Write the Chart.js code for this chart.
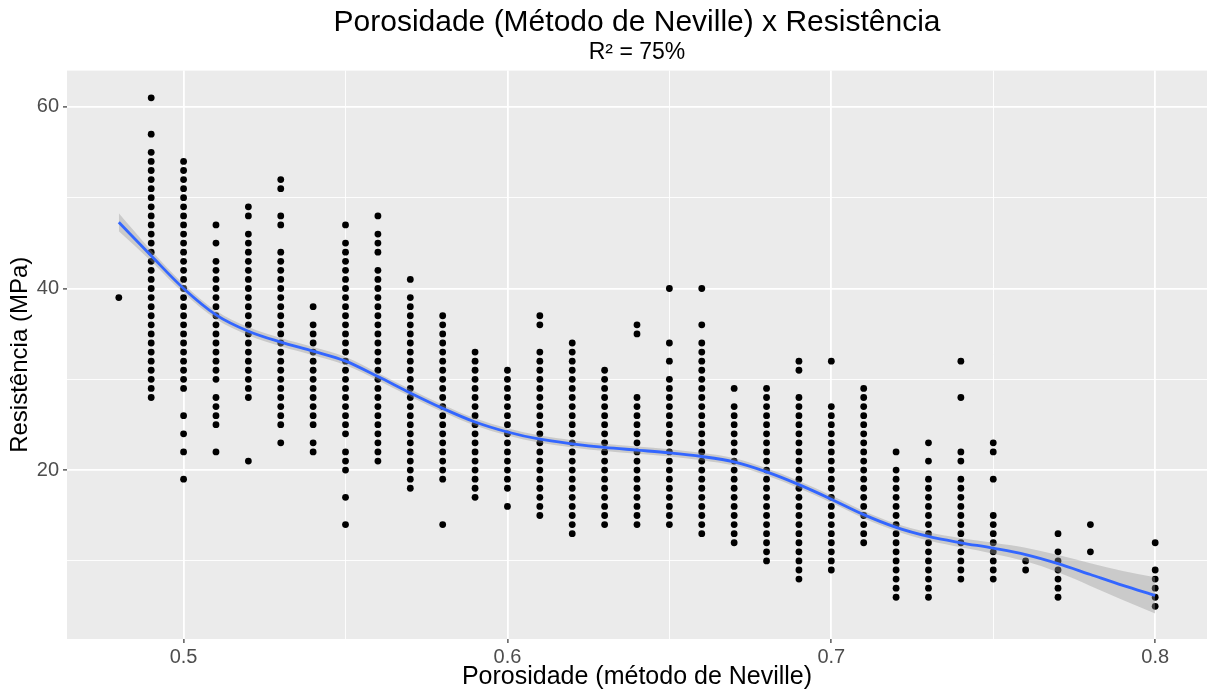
<!DOCTYPE html>
<html>
<head>
<meta charset="utf-8">
<title>Porosidade x Resistência</title>
<script src="https://cdn.jsdelivr.net/npm/chart.js@4.4.0/dist/chart.umd.min.js"></script>
<style>
  html, body { margin: 0; padding: 0; background: #fff; }
</style>
</head>
<body>
<canvas id="myChart" width="1211" height="693"></canvas>
<script>
// Porosidade de cada coluna de pontos
const porosidade = [0.48, 0.49, 0.50, 0.51, 0.52, 0.53, 0.54, 0.55, 0.56, 0.57, 0.58, 0.59, 0.60,
  0.61, 0.62, 0.63, 0.64, 0.65, 0.66, 0.67, 0.68, 0.69, 0.70, 0.71, 0.72, 0.73, 0.74, 0.75,
  0.76, 0.77, 0.78, 0.80];

// Resistências (MPa) lidas em cada coluna
const resistencia = [
  [39],
  [61,57,55,54,53,52,51,50,49,48,47,46,45,44,43,42,41,40,39,38,37,36,35,34,33,32,31,30,29,28],
  [54,53,52,51,50,49,48,47,46,45,44,43,42,41,40,39,38,37,36,35,34,33,32,31,30,29,26,24,22,19],
  [47,45,43,42,41,40,39,38,37,36,35,34,33,32,31,30,28,27,26,25,22],
  [49,48,46,45,44,43,42,41,40,39,38,37,36,35,34,33,32,31,30,29,28,21],
  [52,51,48,47,44,43,42,41,40,39,38,37,36,35,34,33,32,31,30,29,28,27,26,25,23],
  [38,36,35,34,33,32,31,30,29,28,27,26,25,23,22],
  [47,45,44,43,42,41,40,39,38,37,36,35,34,33,32,31,30,29,28,27,26,25,24,22,21,20,17,14],
  [48,46,45,44,42,41,40,39,38,37,36,35,34,33,32,31,30,29,28,27,26,25,24,23,22,21],
  [41,39,38,37,36,35,34,33,32,31,30,29,28,27,26,25,24,23,22,21,20,19,18],
  [37,36,35,34,33,32,31,30,29,28,27,26,25,24,23,22,21,20,19,14],
  [33,32,31,30,29,28,27,26,25,24,23,22,21,20,19,18,17],
  [31,30,29,28,27,26,25,24,23,22,21,20,19,18,16],
  [37,36,33,32,31,30,29,28,27,26,25,24,23,22,21,20,19,18,17,16,15],
  [34,33,32,31,30,29,28,27,26,25,24,23,22,21,20,19,18,17,16,15,14,13],
  [31,30,29,28,27,26,25,24,23,22,21,20,19,18,17,16,15,14],
  [36,35,28,27,26,25,24,23,22,21,20,19,18,17,16,15,14],
  [40,34,32,30,29,28,27,26,25,24,23,22,21,20,19,18,17,16,15,14],
  [40,36,34,33,32,31,30,29,28,27,26,25,24,23,22,21,20,19,18,17,16,15,14,13],
  [29,27,26,25,24,23,22,21,20,19,18,17,16,15,14,13,12],
  [29,28,27,26,25,24,23,22,21,20,19,18,17,16,15,14,13,12,11,10],
  [32,31,28,27,26,25,24,23,22,21,20,19,18,17,16,15,14,13,12,11,10,9,8],
  [32,27,26,25,24,23,22,21,20,19,18,17,16,15,14,13,12,11,10,9],
  [29,28,27,26,25,24,23,22,21,20,19,18,17,16,15,14,13,12],
  [22,20,19,18,17,16,15,14,13,12,11,10,9,8,7,6],
  [23,21,19,18,17,16,15,14,13,12,11,10,9,8,7,6],
  [32,28,22,21,19,18,17,16,15,14,13,12,11,10,9,8],
  [23,22,19,15,14,13,12,11,10,9,8],
  [10,9],
  [13,11,10,9,8,7,6],
  [14,11],
  [12,9,8,7,6,5]
];

// Curva suavizada (loess) e meia largura da faixa de confiança
const curvaX = [0.48, 0.49, 0.50, 0.51, 0.52, 0.53, 0.54, 0.55, 0.56, 0.57, 0.58, 0.59, 0.60,
  0.61, 0.62, 0.63, 0.64, 0.65, 0.66, 0.67, 0.68, 0.69, 0.70, 0.71, 0.72, 0.73, 0.74, 0.75,
  0.76, 0.77, 0.78, 0.79, 0.80];
const curvaY = [47.3, 43.6, 40.0, 37.1, 35.3, 34.1, 33.1, 32.0, 30.3, 28.5, 26.8, 25.3, 24.2,
  23.4, 22.9, 22.5, 22.2, 21.9, 21.5, 20.9, 19.8, 18.4, 16.8, 15.1, 13.7, 12.7, 12.0, 11.4,
  10.7, 9.7, 8.5, 7.3, 6.2];
const curvaErro = [1.0, 0.6, 0.5, 0.45, 0.45, 0.45, 0.45, 0.45, 0.4, 0.4, 0.4, 0.4, 0.4,
  0.4, 0.4, 0.4, 0.4, 0.4, 0.4, 0.4, 0.4, 0.4, 0.4, 0.4, 0.4, 0.45, 0.5, 0.6,
  0.75, 0.95, 1.25, 1.6, 2.0];

// Marcas dos eixos (principais com rótulo, secundárias só grade)
const ticksX = [0.5, 0.6, 0.7, 0.8];
const gradeX = [0.5, 0.55, 0.6, 0.65, 0.7, 0.75, 0.8];
const ticksY = [20, 40, 60];
const gradeY = [10, 20, 30, 40, 50, 60];

const ehPrincipal = (lista, v) => lista.some(t => Math.abs(t - v) < 1e-9);

const pontos = [];
porosidade.forEach((p, i) => {
  resistencia[i].forEach(r => pontos.push({ x: p, y: r }));
});
const linha = curvaX.map((x, i) => ({ x: x, y: curvaY[i] }));
const faixaSup = curvaX.map((x, i) => ({ x: x, y: curvaY[i] + curvaErro[i] }));
const faixaInf = curvaX.map((x, i) => ({ x: x, y: curvaY[i] - curvaErro[i] }));

// fundo cinza do painel, estilo ggplot
const fundoPainel = {
  id: 'fundoPainel',
  beforeDraw(chart) {
    const { ctx, chartArea: a } = chart;
    ctx.save();
    ctx.fillStyle = '#EBEBEB';
    ctx.fillRect(a.left, a.top, a.right - a.left, a.bottom - a.top);
    ctx.restore();
  }
};

const fonte = "'Liberation Sans', Arial, sans-serif";

const ctx = document.getElementById('myChart').getContext('2d');
const myChart = new Chart(ctx, {
  type: 'scatter',
  data: {
    datasets: [
      {
        label: 'loess',
        data: linha,
        showLine: true,
        borderColor: '#3366FF',
        borderWidth: 2.8,
        pointRadius: 0,
        cubicInterpolationMode: 'monotone',
        fill: false,
        order: 1
      },
      {
        label: 'sup',
        data: faixaSup,
        showLine: true,
        borderWidth: 0,
        borderColor: 'rgba(0,0,0,0)',
        pointRadius: 0,
        cubicInterpolationMode: 'monotone',
        fill: false,
        order: 2
      },
      {
        label: 'inf',
        data: faixaInf,
        showLine: true,
        borderWidth: 0,
        borderColor: 'rgba(0,0,0,0)',
        backgroundColor: 'rgba(153,153,153,0.4)',
        pointRadius: 0,
        cubicInterpolationMode: 'monotone',
        fill: '-1',
        order: 2
      },
      {
        label: 'Resistência',
        data: pontos,
        pointRadius: 3.4,
        pointBackgroundColor: '#000',
        pointBorderWidth: 0,
        order: 3
      }
    ]
  },
  options: {
    responsive: false,
    animation: false,
    devicePixelRatio: 1,
    layout: { padding: { top: 0, left: 0, right: 0, bottom: 0 } },
    plugins: {
      legend: { display: false },
      tooltip: { enabled: false },
      title: {
        display: true,
        fullSize: false,
        text: 'Porosidade (Método de Neville) x Resistência',
        color: '#000',
        font: { family: fonte, size: 30, weight: 'normal', lineHeight: 1.1 },
        padding: { top: 6, bottom: 0 }
      },
      subtitle: {
        display: true,
        fullSize: false,
        text: 'R² = 75%',
        color: '#000',
        font: { family: fonte, size: 23, weight: 'normal' },
        padding: { top: 0, bottom: 4 }
      }
    },
    scales: {
      x: {
        type: 'linear',
        min: 0.464,
        max: 0.816,
        afterBuildTicks: scale => { scale.ticks = gradeX.map(v => ({ value: v })); },
        afterFit: scale => { scale.height = 54; },
        border: { display: false },
        grid: {
          color: '#FFFFFF',
          lineWidth: c => ehPrincipal(ticksX, c.tick.value) ? 1.8 : 0.9,
          tickLength: 4,
          tickWidth: 1.2,
          tickColor: c => ehPrincipal(ticksX, c.tick.value) ? '#333333' : 'rgba(0,0,0,0)'
        },
        ticks: {
          autoSkip: false,
          maxRotation: 0,
          padding: 2,
          color: '#4D4D4D',
          font: { family: fonte, size: 20 },
          callback: v => ehPrincipal(ticksX, v) ? String(v) : ''
        },
        title: {
          display: true,
          text: 'Porosidade (método de Neville)',
          color: '#000',
          font: { family: fonte, size: 25 },
          padding: { top: 0, bottom: 1 }
        }
      },
      y: {
        type: 'linear',
        min: 1.4,
        max: 64.0,
        afterBuildTicks: scale => { scale.ticks = gradeY.map(v => ({ value: v })); },
        afterFit: scale => { scale.width = 67; },
        border: { display: false },
        grid: {
          color: '#FFFFFF',
          lineWidth: c => ehPrincipal(ticksY, c.tick.value) ? 1.8 : 0.9,
          tickLength: 4,
          tickWidth: 1.2,
          tickColor: c => ehPrincipal(ticksY, c.tick.value) ? '#333333' : 'rgba(0,0,0,0)'
        },
        ticks: {
          autoSkip: false,
          padding: 4,
          color: '#4D4D4D',
          font: { family: fonte, size: 20 },
          callback: v => ehPrincipal(ticksY, v) ? String(v) : ''
        },
        title: {
          display: true,
          text: 'Resistência (MPa)',
          color: '#000',
          font: { family: fonte, size: 24 },
          padding: { top: 6, bottom: 0 }
        }
      }
    }
  },
  plugins: [fundoPainel]
});
</script>
</body>
</html>
